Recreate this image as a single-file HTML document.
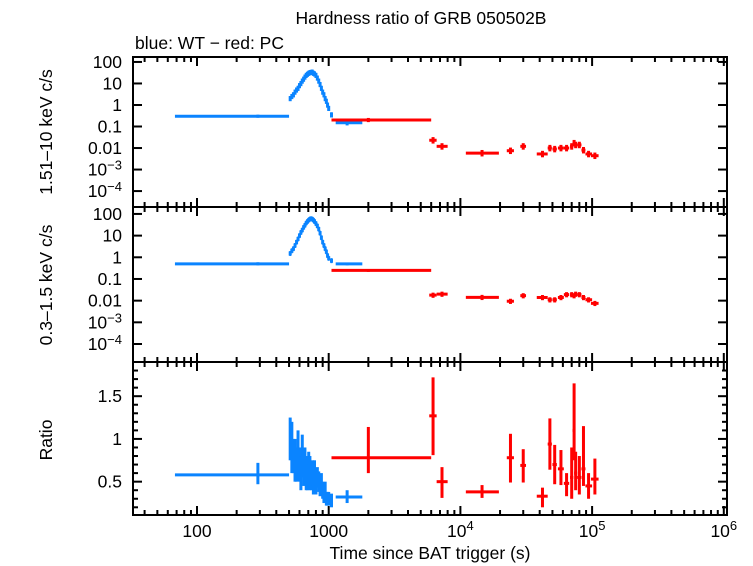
<!DOCTYPE html>
<html><head><meta charset="utf-8">
<style>
html,body{margin:0;padding:0;background:#fff;}
svg{display:block;font-family:"Liberation Sans",sans-serif;}
</style></head>
<body>
<svg id="chart" width="753" height="566" viewBox="0 0 753 566" xmlns="http://www.w3.org/2000/svg">
<text x="421" y="24" font-size="17.5" text-anchor="middle">Hardness ratio of GRB 050502B</text>
<text x="135" y="49" font-size="17.5">blue: WT − red: PC</text>
<text transform="translate(52,132) rotate(-90)" font-size="17.5" text-anchor="middle">1.51–10 keV c/s</text>
<text transform="translate(52,285) rotate(-90)" font-size="17.5" text-anchor="middle">0.3–1.5 keV c/s</text>
<text transform="translate(52,440) rotate(-90)" font-size="17.5" text-anchor="middle">Ratio</text>
<text x="430" y="559" font-size="17.5" text-anchor="middle">Time since BAT trigger (s)</text>
<g id="plot"></g>
</svg>
<script>
// ---- data ----
const wtBinT = [68, 290, 500];            // lo, center, hi
const wtBinHard = [0.3];
const wtBinSoft = [0.5];
const wtBinRatio = [0.58, 0.72, 0.47];
const wtT = [510,525,540,555,570,585,600,615,630,645,660,675,690,705,720,735,750,765,780,800,820,840,860,880,900,920,940,960,980,1000,1050];
const wtHard = [2,2.5,3,4,5,6,8,10,13,16,20,24,27,30,32,33,34,30,28,24,18,13,9,6,4,3,2,1.5,1,0.7,0.35];
const wtSoft = [1.5,2,2.5,3.5,5,7,10,14,18,24,30,38,45,52,58,60,58,52,45,36,28,20,13,8,5,3.5,2.5,1.8,1.2,0.9,0.7];
const wtRatio = [1.0,0.9,0.8,0.75,0.7,0.85,0.7,0.6,0.8,0.65,0.7,0.6,0.55,0.65,0.6,0.55,0.6,0.5,0.6,0.5,0.55,0.5,0.45,0.5,0.4,0.35,0.4,0.3,0.3,0.3,0.28];
const wtRatioErr = [0.25,0.3,0.2,0.25,0.2,0.25,0.2,0.2,0.25,0.2,0.2,0.2,0.15,0.2,0.2,0.15,0.15,0.15,0.15,0.15,0.12,0.12,0.12,0.1,0.1,0.1,0.1,0.08,0.08,0.08,0.08];
const wtLateT = [1130, 1380, 1800];
const wtLateHard = [0.15];
const wtLateSoft = [0.5];
const wtLateRatio = [0.32, 0.4, 0.25];
const pcT =     [6200,7250,14600,24000,30000,42000,47800,52000,58000,64000,70000,73000,75000,80000,86000,94000,105000];
const pcTlo =   [5800,6600,11000,22500,28500,38000,46000,50000,55000,61000,68000,71000,73000,77000,83000,89000,98000];
const pcThi =   [6600,8000,19600,25500,31500,46000,49500,54000,61000,67000,72000,74000,77000,83000,89000,100000,112000];
const pcHard =  [0.023,0.012,0.0058,0.0075,0.012,0.0053,0.01,0.009,0.01,0.01,0.012,0.017,0.014,0.014,0.008,0.0053,0.0044];
const pcSoft =  [0.018,0.02,0.0142,0.0094,0.017,0.014,0.011,0.011,0.014,0.019,0.019,0.017,0.02,0.019,0.014,0.011,0.0075];
const pcRatio = [1.27,0.5,0.38,0.78,0.69,0.33,0.94,0.7,0.65,0.48,0.55,1.1,0.6,0.55,0.65,0.45,0.53];
const pcRatioHi = [1.72,0.67,0.46,1.06,0.88,0.43,1.24,0.93,0.87,0.6,0.9,1.65,0.85,0.8,1.15,0.6,0.77];
const pcRatioLo = [0.81,0.31,0.31,0.49,0.49,0.2,0.64,0.47,0.46,0.33,0.3,0.75,0.4,0.35,0.45,0.3,0.35];
const pcBinT = [1050, 2000, 6000];
const pcBinHard = [0.2];
const pcBinSoft = [0.25];
const pcBinRatio = [0.78, 1.14, 0.6];
const xTickVals = [100,1000,10000,100000,1000000];
const hardTickLabels = ["100","10","1","0.1","0.01","10−3","10−4"];
const ratioTickVals = [0.5,1,1.5];

// ---- axes ----
const L=133, R=727;
const panels = {
  hard: {top:57, bot:207, ymax:2.23, ymin:-4.74, log:true},
  soft: {top:207, bot:362, ymax:2.32, ymin:-4.83, log:true},
  ratio:{top:362, bot:515, ymax:1.9, ymin:0.11, log:false}
};
function X(t){ return 197 + (Math.log10(t)-2)*131.7; }
function Y(p,v){ const P=panels[p]; const u = P.log?Math.log10(v):v;
  return P.top + (P.ymax-u)/(P.ymax-P.ymin)*(P.bot-P.top); }
const NS="http://www.w3.org/2000/svg";
const g=document.getElementById('plot');
function el(tag,attrs,parent){ const e=document.createElementNS(NS,tag); for(const k in attrs) e.setAttribute(k,attrs[k]); (parent||g).appendChild(e); return e; }
function line(x1,y1,x2,y2,c,w,parent){ return el('line',{x1,y1,x2,y2,stroke:c,'stroke-width':w},parent); }

const BLUE="#0a84ff", RED="#ff0000";
for(const p in panels){
  const P=panels[p];
  const tg=el('g',{});
  
  
  for(let d=1; d<=6; d++){
    for(let m=1;m<10;m++){
      const t=m*Math.pow(10,d); const x=X(t);
      if(x<L||x>R) continue;
      const len = m===1?9:5;
      line(x,P.top,x,P.top+len,'#000',2,tg);
      line(x,P.bot,x,P.bot-len,'#000',2,tg);
    }
  }
  if(P.log){
    for(let e=-4;e<=2;e++){ const y=Y(p,Math.pow(10,e));
      line(L,y,L+9,y,'#000',2,tg); line(R,y,R-9,y,'#000',2,tg); }
  } else {
    for(let v=0.2; v<=1.85; v+=0.1){ const y=Y(p,v); const maj=Math.abs(v*2-Math.round(v*2))<1e-6;
      const len=maj?9:5; line(L,y,L+len,y,'#000',2,tg); line(R,y,R-len,y,'#000',2,tg); }
  }
}
['hard','soft'].forEach(p=>{
  hardTickLabels.forEach((lab,i)=>{
    const e=2-i; const y=Y(p,Math.pow(10,e))+6;
    const t=el('text',{x:122,y:y,'font-size':17.5,'text-anchor':'end'});
    
    
    if(lab.indexOf('10−')===0){ t.textContent='10'; const s=el('tspan',{dy:-6,'font-size':13},t); s.textContent=lab.slice(2); }
    else t.textContent=lab;
  });
});
ratioTickVals.forEach(v=>{
  const t=el('text',{x:122,y:Y('ratio',v)+6,'font-size':17.5,'text-anchor':'end'});
  
  
  t.textContent=String(v);
});
xTickVals.forEach(v=>{
  const t=el('text',{x:X(v),y:537,'font-size':17.5,'text-anchor':'middle'});
  
  
  const e=Math.round(Math.log10(v));
  if(e<=3) t.textContent=String(v);
  else { t.textContent='10'; const s=el('tspan',{dy:-7,'font-size':13},t); s.textContent=String(e); }
});
for(const p in panels){ const P=panels[p];
  const r=el('rect',{x:L,y:P.top,width:R-L,height:P.bot-P.top,fill:'none',stroke:'#000','stroke-width':2});
  
  
}
function cross(p,tlo,t,thi,v,vlo,vhi,c,name,w){
  const gg=el('g',{});
  
  
  const y=Y(p,v);
  line(X(tlo),y,X(thi),y,c,w||3,gg);
  line(X(t),Y(p,vhi),X(t),Y(p,vlo),c,3,gg);
}
cross('hard',wtBinT[0],wtBinT[1],wtBinT[2],wtBinHard[0],wtBinHard[0]*0.85,wtBinHard[0]*1.18,BLUE,'wt-bin-hard');
cross('soft',wtBinT[0],wtBinT[1],wtBinT[2],wtBinSoft[0],wtBinSoft[0]*0.85,wtBinSoft[0]*1.18,BLUE,'wt-bin-soft');
cross('ratio',wtBinT[0],wtBinT[1],wtBinT[2],wtBinRatio[0],wtBinRatio[2],wtBinRatio[1],BLUE,'wt-bin-ratio');
cross('hard',wtLateT[0],wtLateT[1],wtLateT[2],wtLateHard[0],wtLateHard[0]*0.75,wtLateHard[0]*1.1,BLUE,'wt-late-hard');
cross('soft',wtLateT[0],wtLateT[1],wtLateT[2],wtLateSoft[0],wtLateSoft[0]*0.85,wtLateSoft[0]*1.15,BLUE,'wt-late-soft');
cross('ratio',wtLateT[0],wtLateT[1],wtLateT[2],wtLateRatio[0],wtLateRatio[2],wtLateRatio[1],BLUE,'wt-late-ratio');
wtT.forEach((t,i)=>{
  cross('hard',t*0.985,t,t*1.015,wtHard[i],wtHard[i]*0.75,wtHard[i]*1.3,BLUE,'wt-point-hard',5);
  cross('soft',t*0.985,t,t*1.015,wtSoft[i],wtSoft[i]*0.8,wtSoft[i]*1.25,BLUE,'wt-point-soft',5);
  cross('ratio',t*0.99,t,t*1.01,wtRatio[i],Math.max(0.15,wtRatio[i]-wtRatioErr[i]),wtRatio[i]+wtRatioErr[i],BLUE,'wt-point-ratio');
});
cross('hard',pcBinT[0],pcBinT[1],pcBinT[2],pcBinHard[0],pcBinHard[0]*0.8,pcBinHard[0]*1.25,RED,'pc-bin-hard');
cross('soft',pcBinT[0],pcBinT[1],pcBinT[2],pcBinSoft[0],pcBinSoft[0]*0.85,pcBinSoft[0]*1.15,RED,'pc-bin-soft');
cross('ratio',pcBinT[0],pcBinT[1],pcBinT[2],pcBinRatio[0],pcBinRatio[2],pcBinRatio[1],RED,'pc-bin-ratio');
pcT.forEach((t,i)=>{
  cross('hard',pcTlo[i],t,pcThi[i],pcHard[i],pcHard[i]*0.7,pcHard[i]*1.4,RED,'pc-point-hard');
  cross('soft',pcTlo[i],t,pcThi[i],pcSoft[i],pcSoft[i]*0.75,pcSoft[i]*1.3,RED,'pc-point-soft');
  cross('ratio',pcTlo[i],t,pcThi[i],pcRatio[i],pcRatioLo[i],pcRatioHi[i],RED,'pc-point-ratio');
});
</script>
</body></html>
